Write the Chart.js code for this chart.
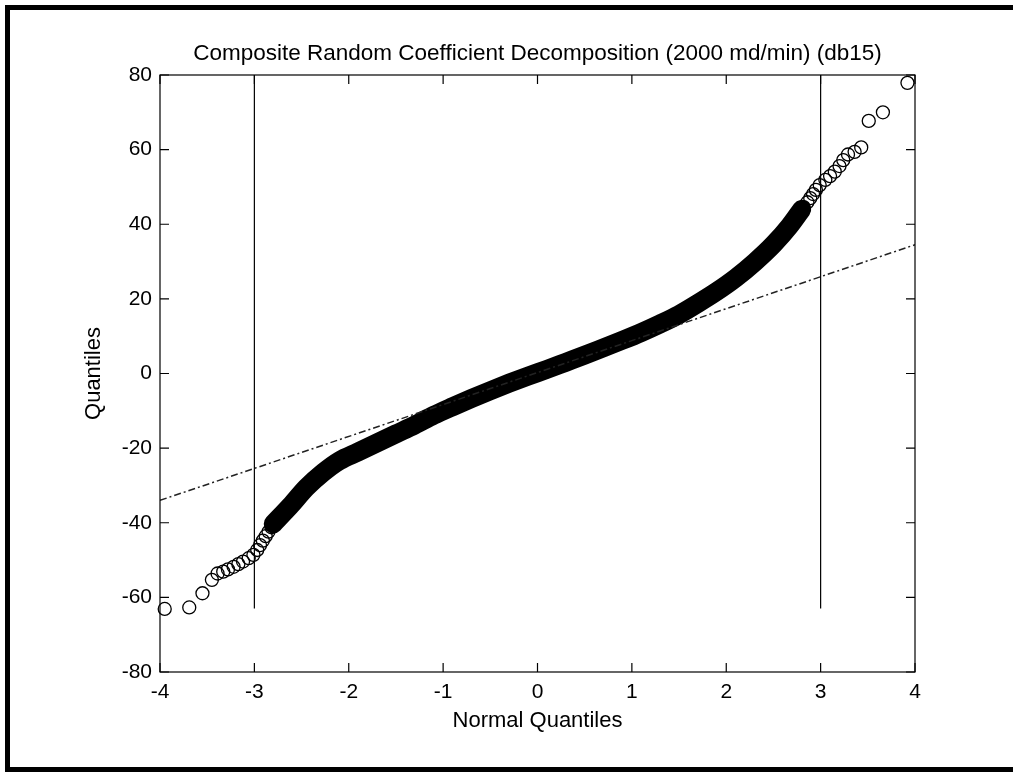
<!DOCTYPE html>
<html lang="en">
<head>
<meta charset="UTF-8">
<title>Composite Random Coefficient Decomposition</title>
<script src="https://cdn.jsdelivr.net/npm/chart.js@4/dist/chart.umd.min.js"></script>
<style>
    body { margin: 0; background: #fff; }
    #frame {
        position: absolute; left: 5px; top: 5px; width: 1008px; height: 767px;
        box-sizing: border-box;
        border-left: 5px solid #000; border-top: 5px solid #000; border-bottom: 5px solid #000;
    }
    canvas { position: absolute; left: 0; top: 0; }
</style>
</head>
<body>
<div id="frame"></div>
<canvas id="qq" width="1013" height="772"></canvas>

<script>
// tick labels
var xTicks = [-4, -3, -2, -1, 0, 1, 2, 3, 4];
var yTicks = [-80, -60, -40, -20, 0, 20, 40, 60, 80];

// dense middle of the sample (circles overlap into a solid band)
var coreX = [-2.80, -2.62, -2.45, -2.27, -2.10, -1.90, -1.70, -1.50, -1.30, -1.10, -0.90, -0.70, -0.50, -0.30, -0.10,
             0.10, 0.30, 0.50, 0.70, 0.90, 1.10, 1.30, 1.50, 1.70, 1.90, 2.10, 2.30, 2.50, 2.67, 2.80];
var coreY = [-40.3, -35.5, -30.6, -26.5, -23.4, -21.0, -18.6, -16.2, -13.8, -11.2, -8.9, -6.7, -4.6, -2.6, -0.7,
             1.1, 3.0, 4.9, 6.9, 8.9, 11.0, 13.3, 15.8, 18.8, 22.0, 25.6, 29.8, 34.6, 39.5, 44.0];

// tails where single circles are visible
var lowX = [-3.95, -3.69, -3.55, -3.45, -3.39, -3.33, -3.28, -3.22, -3.17, -3.12, -3.06, -3.01, -2.97, -2.94, -2.91, -2.88, -2.85, -2.82];
var lowY = [-63.1, -62.7, -58.9, -55.3, -53.6, -53.1, -52.5, -51.8, -51.1, -50.4, -49.5, -48.6, -47.3, -46.0, -44.8, -43.6, -42.4, -41.2];
var highX = [2.74, 2.78, 2.82, 2.86, 2.89, 2.92, 2.95, 2.99, 3.05, 3.10, 3.15, 3.20, 3.24, 3.29, 3.36, 3.43, 3.51, 3.66, 3.92];
var highY = [41.8, 43.2, 44.6, 45.9, 47.0, 48.1, 49.2, 50.5, 51.9, 52.9, 54.1, 55.6, 57.2, 58.7, 59.4, 60.6, 67.7, 70.0, 77.9];

// reference line and the two vertical markers
var refX = [-4, 4];
var refY = [-34, 34.5];
var markX = [-3, 3];
var markY = [-63, 80];

function pts(xs, ys) {
    return xs.map(function(x, i) { return {x: x, y: ys[i]}; });
}

var tickLen = 9;

// MATLAB style box with inward ticks on all four sides
var boxPlugin = {
    id: 'box',
    afterDraw: function(chart) {
        var c = chart.ctx, a = chart.chartArea;
        var xs = chart.scales.x, ys = chart.scales.y;
        c.save();
        c.strokeStyle = '#000';
        c.lineWidth = 1.2;
        c.strokeRect(a.left, a.top, a.right - a.left, a.bottom - a.top);
        c.beginPath();
        xTicks.forEach(function(v) {
            var p = xs.getPixelForValue(v);
            c.moveTo(p, a.bottom); c.lineTo(p, a.bottom - tickLen);
            c.moveTo(p, a.top); c.lineTo(p, a.top + tickLen);
        });
        yTicks.forEach(function(v) {
            var p = ys.getPixelForValue(v);
            c.moveTo(a.left, p); c.lineTo(a.left + tickLen, p);
            c.moveTo(a.right, p); c.lineTo(a.right - tickLen, p);
        });
        c.stroke();
        c.restore();
    }
};

var font = 'Liberation Sans, Arial, sans-serif';

var chart = new Chart(document.getElementById('qq').getContext('2d'), {
    type: 'scatter',
    data: {
        datasets: [{
            label: 'markers -3',
            data: pts([markX[0], markX[0]], markY),
            showLine: true,
            borderColor: '#000',
            borderWidth: 1.2,
            pointRadius: 0
        }, {
            label: 'markers 3',
            data: pts([markX[1], markX[1]], markY),
            showLine: true,
            borderColor: '#000',
            borderWidth: 1.2,
            pointRadius: 0
        }, {
            label: 'reference',
            data: pts(refX, refY),
            showLine: true,
            borderColor: '#222',
            borderWidth: 1.5,
            borderDash: [7, 3, 2, 3],
            pointRadius: 0
        }, {
            label: 'sample (dense)',
            data: pts(coreX, coreY),
            showLine: true,
            borderColor: '#000',
            borderWidth: 19,
            borderCapStyle: 'round',
            borderJoinStyle: 'round',
            cubicInterpolationMode: 'monotone',
            pointRadius: 0
        }, {
            label: 'sample',
            data: pts(lowX, lowY).concat(pts(highX, highY)),
            borderColor: '#000',
            backgroundColor: 'rgba(0,0,0,0)',
            borderWidth: 1.3,
            pointRadius: 6.5,
            clip: false
        }]
    },
    options: {
        responsive: false,
        animation: false,
        events: [],
        layout: { padding: { left: 0, right: 98, top: 0, bottom: 0 } },
        plugins: {
            legend: { display: false },
            tooltip: { enabled: false },
            title: {
                display: true,
                fullSize: false,
                text: 'Composite Random Coefficient Decomposition (2000 md/min) (db15)',
                color: '#000',
                font: { family: font, size: 22.5, weight: 'normal' },
                padding: { top: 40, bottom: 8 }
            }
        },
        scales: {
            x: {
                type: 'linear',
                min: -4, max: 4,
                afterBuildTicks: function(s) { s.ticks = xTicks.map(function(v) { return {value: v}; }); },
                afterFit: function(s) { s.height = 100; },
                grid: { display: false, drawTicks: false },
                border: { display: false },
                ticks: { color: '#000', padding: 8, font: { family: font, size: 21 } },
                title: {
                    display: true,
                    text: 'Normal Quantiles',
                    color: '#000',
                    font: { family: font, size: 22 },
                    padding: { top: 0, bottom: 38 }
                }
            },
            y: {
                type: 'linear',
                min: -80, max: 80,
                afterBuildTicks: function(s) { s.ticks = yTicks.map(function(v) { return {value: v}; }); },
                afterFit: function(s) { s.width = 160; },
                grid: { display: false, drawTicks: false },
                border: { display: false },
                ticks: { color: '#000', padding: 8, font: { family: font, size: 21 } },
                title: {
                    display: true,
                    text: 'Quantiles',
                    color: '#000',
                    font: { family: font, size: 22 },
                    padding: { top: 81, bottom: 0 }
                }
            }
        }
    },
    plugins: [boxPlugin]
});
</script>
</body>
</html>
